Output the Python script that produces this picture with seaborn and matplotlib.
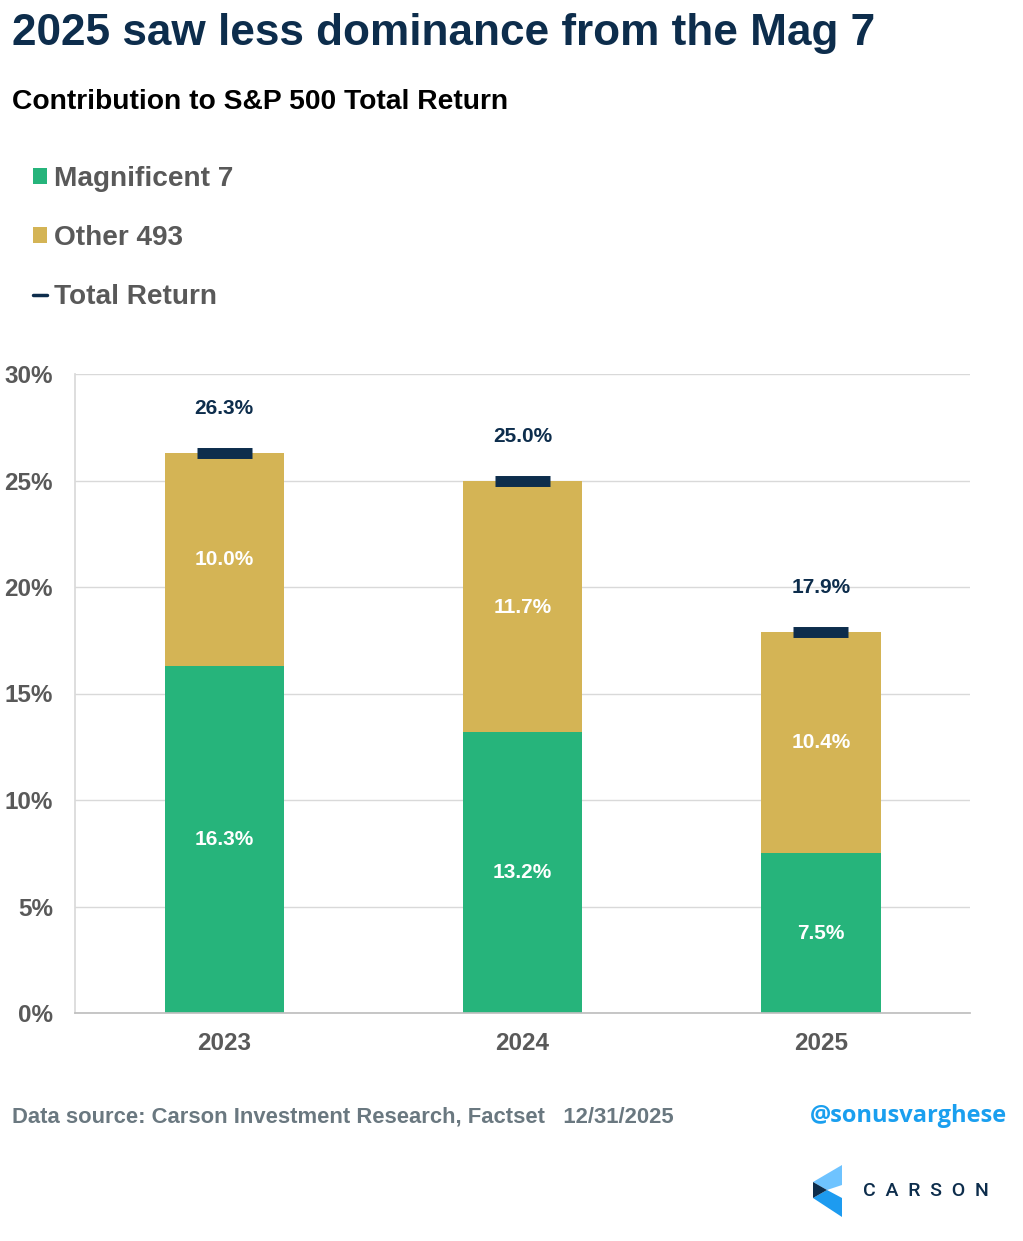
import numpy as np
import pandas as pd
import seaborn as sns
import matplotlib.pyplot as plt
from matplotlib.patches import Patch, Polygon
from matplotlib.lines import Line2D

# Chart data
years = ['2023', '2024', '2025']
mag7 = [16.3, 13.2, 7.5]
other493 = [10.0, 11.7, 10.4]
total_return = [26.3, 25.0, 17.9]
y_ticks = [0, 5, 10, 15, 20, 25, 30]

GREEN = '#26B47B'
GOLD = '#D4B455'
NAVY = '#0D2D4C'
GRAY = '#595959'

sns.set_theme(style='white')
plt.rcParams['font.family'] = ['Liberation Sans', 'DejaVu Sans']

df = pd.DataFrame({'year': years, 'mag7': mag7, 'other': other493, 'total': total_return})

W, H = 1023, 1241
fig = plt.figure(figsize=(W / 100, H / 100), dpi=100)
ax = fig.add_axes([75 / W, 1 - 1013 / H, 895 / W, 639 / H])


def px(x, y):
    return (x / W, 1 - y / H)


# stacked bars: gold up to the total behind, green on top
sns.barplot(data=df, x='year', y='total', color=GOLD, width=0.4, saturation=1, linewidth=0, ax=ax)
sns.barplot(data=df, x='year', y='mag7', color=GREEN, width=0.4, saturation=1, linewidth=0, ax=ax)

xpos = np.arange(len(years))
ax.hlines(df['total'], xpos - 0.092, xpos + 0.092, color=NAVY, lw=7.9, capstyle='butt', zorder=5)

for i, row in df.iterrows():
    ax.text(i, row['mag7'] / 2, f"{row['mag7']:.1f}%", ha='center', va='center',
            color='white', fontsize=15, fontweight='bold')
    ax.text(i, row['mag7'] + row['other'] / 2, f"{row['other']:.1f}%", ha='center', va='center',
            color='white', fontsize=15, fontweight='bold')
    ax.annotate(f"{row['total']:.1f}%", (i, row['total']), xytext=(0, 32), textcoords='offset points',
                ha='center', va='center', color=NAVY, fontsize=15, fontweight='bold')

ax.set_xlim(-0.5, 2.5)
ax.set_ylim(0, 30)
ax.set_yticks(y_ticks)
ax.set_yticklabels([f'{t}%' for t in y_ticks])
ax.set_xlabel('')
ax.set_ylabel('')
ax.grid(axis='y', color='#D9D9D9', lw=1)
ax.set_axisbelow(True)
for s in ['top', 'right']:
    ax.spines[s].set_visible(False)
ax.spines['left'].set_color('#D9D9D9')
ax.spines['bottom'].set_color('#BFBFBF')
ax.tick_params(axis='y', length=0, pad=16, labelsize=17.5, labelcolor=GRAY)
ax.tick_params(axis='x', length=0, pad=14, labelsize=17.5, labelcolor=GRAY)
for lab in ax.get_xticklabels() + ax.get_yticklabels():
    lab.set_fontweight('bold')

# titles
fig.text(*px(12, 34), '2025 saw less dominance from the Mag 7', fontsize=31.8, fontweight='bold',
         color=NAVY, va='center', ha='left')
fig.text(*px(12, 102), 'Contribution to S&P 500 Total Return', fontsize=20.3, fontweight='bold',
         color='black', va='center', ha='left')

# legend
handles = [Patch(facecolor=GREEN, edgecolor='none'),
           Patch(facecolor=GOLD, edgecolor='none'),
           Line2D([0], [0], color=NAVY, lw=2.5)]
fig.legend(handles, ['Magnificent 7', 'Other 493', 'Total Return'], loc='upper left',
           bbox_to_anchor=px(33, 166), frameon=False, borderpad=0, borderaxespad=0,
           handlelength=0.5, handleheight=0.5, handletextpad=0.25, labelspacing=1.18,
           prop={'weight': 'bold', 'size': 20.2}, labelcolor=GRAY)

# footer
fig.text(*px(12, 1117), 'Data source: Carson Investment Research, Factset   12/31/2025', fontsize=15.8,
         fontweight='bold', color='#6A7880', va='center', ha='left')
fig.text(*px(1007, 1116), '@sonusvarghese', fontsize=17, fontweight='bold', color='#1A9FEF',
         va='center', ha='right', family=['Open Sans', 'DejaVu Sans'])

# logo
top_arm = [px(813, 1182), px(842, 1165), px(842, 1185), px(827, 1190)]
bot_arm = [px(813, 1198), px(827, 1190), px(842, 1198), px(842, 1217)]
tri = [px(813, 1182), px(827, 1190), px(813, 1198)]
fig.add_artist(Polygon(top_arm, closed=True, transform=fig.transFigure, color='#6EC3FF', lw=0))
fig.add_artist(Polygon(bot_arm, closed=True, transform=fig.transFigure, color='#1D9BF0', lw=0))
fig.add_artist(Polygon(tri, closed=True, transform=fig.transFigure, color=NAVY, lw=0))
fig.text(*px(863, 1191), 'C  A  R  S  O  N', fontsize=14, fontweight='medium', color=NAVY,
         va='center', ha='left', family=['Roboto', 'Liberation Sans'])

fig.savefig('out.png', dpi=100)
